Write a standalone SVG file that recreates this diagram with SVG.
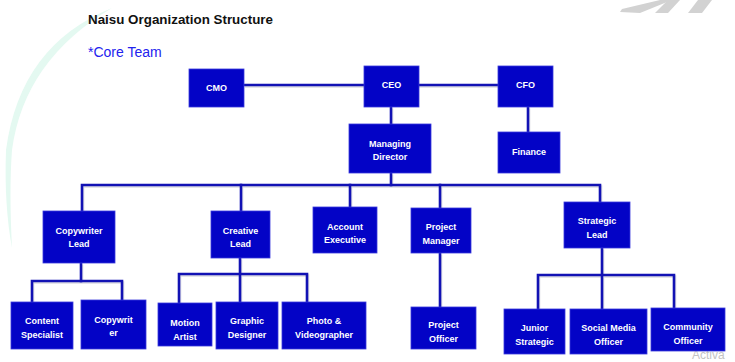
<svg xmlns="http://www.w3.org/2000/svg" width="735" height="362" viewBox="0 0 735 362">
<style>
.box{fill:#0303c6;stroke:#3b3bdc;stroke-width:0.8}
.lbl{font-family:"Liberation Sans",Arial,sans-serif;font-weight:bold;font-size:9px;fill:#ffffff;text-anchor:middle}
.ln{fill:none;stroke:#1212b4;stroke-width:2.6;stroke-linejoin:miter;stroke-linecap:square}
.sh{fill:none;stroke:#9a9ab0;stroke-width:2.6;opacity:0.35}
</style>
<rect width="735" height="362" fill="#ffffff"/>
<!-- background decorations -->
<path d="M112,8 Q20,45 6,150 Q4,205 12,248 Q9,190 12,150 Q24,60 112,8 Z" fill="#e4f9f1"/>
<g fill="#d2d2d2">
<polygon points="620,12 622,9 660,0 672,0 640,13"/>
<polygon points="655,13 668,0 680,0 668,13"/>
<polygon points="688,13 698,0 712,0 702,13"/>
</g>
<text x="692" y="359" font-family="Liberation Sans,Arial,sans-serif" font-size="12" fill="#c4c4c4">Activa</text>
<!-- titles -->
<text x="88" y="24" font-family="Liberation Sans,Arial,sans-serif" font-weight="bold" font-size="13" fill="#111111" textLength="185" lengthAdjust="spacingAndGlyphs">Naisu Organization Structure</text>
<text x="88" y="57" font-family="Liberation Sans,Arial,sans-serif" font-size="14" fill="#2222ee">*Core Team</text>
<!-- connectors -->
<g id="connectors">
<g class="sh" transform="translate(1,1.5)">
<path d="M244,85H498M391,107V124M528,107V132M391,173V185M82,211V185H600V202M241,185V211M350,185V207M440,185V208"/>
<path d="M81,263V281M32,302V281H122V300M240,258V302M179,303V274H307V302M440,253V307M602,248V309M538,309V275H674V308"/>
</g>
<path class="ln" d="M244,85H364M419,85H498"/>
<path class="ln" d="M391,107V124"/>
<path class="ln" d="M528,107V132"/>
<path class="ln" d="M391,173V185"/>
<path class="ln" d="M82,211V185H600V202"/>
<path class="ln" d="M241,185V211"/>
<path class="ln" d="M350,185V207"/>
<path class="ln" d="M440,185V208"/>
<path class="ln" d="M81,263V281"/>
<path class="ln" d="M32,302V281H122V300"/>
<path class="ln" d="M240,258V302"/>
<path class="ln" d="M179,303V274H307V302"/>
<path class="ln" d="M440,253V307"/>
<path class="ln" d="M602,248V309"/>
<path class="ln" d="M538,309V275H674V308"/>
</g>
<!-- nodes -->
<g id="cmo"><rect class="box" x="189" y="69" width="55" height="38"/><text class="lbl" x="216.5" y="91">CMO</text></g>
<g id="ceo"><rect class="box" x="364" y="66" width="55" height="41"/><text class="lbl" x="391.5" y="88">CEO</text></g>
<g id="cfo"><rect class="box" x="498" y="66" width="55" height="41"/><text class="lbl" x="525.5" y="88">CFO</text></g>
<g id="md"><rect class="box" x="349" y="124" width="82" height="49"/><text class="lbl" x="390" y="147">Managing</text><text class="lbl" x="390" y="160">Director</text></g>
<g id="finance"><rect class="box" x="498" y="132" width="62" height="41"/><text class="lbl" x="529" y="155">Finance</text></g>
<g id="copywriter-lead"><rect class="box" x="43" y="211" width="72" height="52"/><text class="lbl" x="79" y="234">Copywriter</text><text class="lbl" x="79" y="247">Lead</text></g>
<g id="creative-lead"><rect class="box" x="211" y="211" width="59" height="47"/><text class="lbl" x="240.5" y="234">Creative</text><text class="lbl" x="240.5" y="247">Lead</text></g>
<g id="account-exec"><rect class="box" x="313" y="207" width="64" height="46"/><text class="lbl" x="345" y="230">Account</text><text class="lbl" x="345" y="243">Executive</text></g>
<g id="project-manager"><rect class="box" x="411" y="208" width="60" height="45"/><text class="lbl" x="441" y="230">Project</text><text class="lbl" x="441" y="244">Manager</text></g>
<g id="strategic-lead"><rect class="box" x="564" y="202" width="66" height="46"/><text class="lbl" x="597" y="224">Strategic</text><text class="lbl" x="597" y="238">Lead</text></g>
<g id="content-specialist"><rect class="box" x="11" y="302" width="62" height="47"/><text class="lbl" x="42" y="324">Content</text><text class="lbl" x="42" y="338">Specialist</text></g>
<g id="copywriter"><rect class="box" x="81" y="300" width="65" height="49"/><text class="lbl" x="113.5" y="323">Copywrit</text><text class="lbl" x="113.5" y="336">er</text></g>
<g id="motion-artist"><rect class="box" x="158" y="303" width="54" height="43"/><text class="lbl" x="185" y="326">Motion</text><text class="lbl" x="185" y="340">Artist</text></g>
<g id="graphic-designer"><rect class="box" x="216" y="302" width="62" height="47"/><text class="lbl" x="247" y="324">Graphic</text><text class="lbl" x="247" y="338">Designer</text></g>
<g id="photo-videographer"><rect class="box" x="282" y="302" width="84" height="47"/><text class="lbl" x="324" y="324">Photo &amp;</text><text class="lbl" x="324" y="338">Videographer</text></g>
<g id="project-officer"><rect class="box" x="411" y="307" width="65" height="42"/><text class="lbl" x="443.5" y="328">Project</text><text class="lbl" x="443.5" y="342">Officer</text></g>
<g id="junior-strategic"><rect class="box" x="504" y="309" width="61" height="45"/><text class="lbl" x="534.5" y="331">Junior</text><text class="lbl" x="534.5" y="345">Strategic</text></g>
<g id="social-media-officer"><rect class="box" x="570" y="309" width="77" height="45"/><text class="lbl" x="608.5" y="331">Social Media</text><text class="lbl" x="608.5" y="345">Officer</text></g>
<g id="community-officer"><rect class="box" x="651" y="308" width="74" height="43"/><text class="lbl" x="688" y="330">Community</text><text class="lbl" x="688" y="344">Officer</text></g>
</svg>
